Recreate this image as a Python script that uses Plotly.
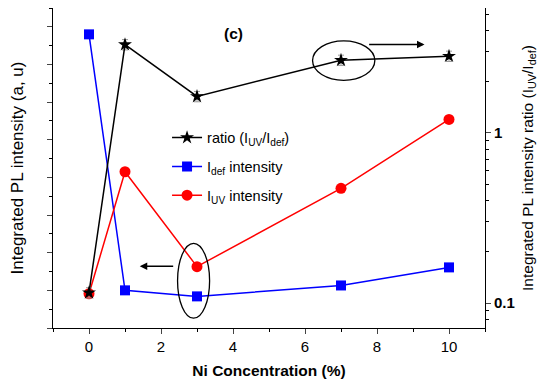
import plotly.graph_objects as go

ni = [0, 1, 3, 7, 10]
i_def = [7.80, 1.00, 0.84, 1.13, 1.61]
i_uv = [0.91, 4.15, 1.63, 3.71, 5.54]
ratio = [0.115, 3.31, 1.64, 2.68, 2.83]

FONT = "Liberation Sans, Arial, sans-serif"

fig = go.Figure()
fig.add_trace(go.Scatter(x=ni, y=ratio, yaxis="y2", mode="lines+markers",
                         name="ratio (I<sub>UV</sub>/I<sub>def</sub>)", legendgroup="a",
                         line=dict(color="black", width=1.5),
                         marker=dict(symbol="star", size=10.5, color="black"),
                         error_y=dict(type="percent", value=7, color="#999999", thickness=1, width=3)))
fig.add_trace(go.Scatter(x=ni, y=i_def, mode="lines+markers",
                         name="I<sub>def</sub> intensity", legendgroup="b",
                         line=dict(color="blue", width=1.5),
                         marker=dict(symbol="square", size=10, color="blue")))
fig.add_trace(go.Scatter(x=ni, y=i_uv, mode="lines+markers",
                         name="I<sub>UV</sub> intensity", legendgroup="c",
                         line=dict(color="red", width=1.5),
                         marker=dict(symbol="circle", size=11, color="red")))

# annotations: ellipses and arrows
fig.add_shape(type="circle", xref="x", yref="y2", x0=6.21, x1=7.94, y0=2.04, y1=3.48,
              line=dict(color="black", width=1.3))
fig.add_shape(type="circle", xref="x", yref="y", x0=2.46, x1=3.35, y0=0.26, y1=2.25,
              line=dict(color="black", width=1.3))
fig.add_annotation(x=9.32, y=0.52, ax=7.74, ay=0.52, xref="x", yref="y2", axref="x", ayref="y2",
                   showarrow=True, arrowhead=2, arrowsize=1, arrowwidth=1.5, arrowcolor="black", text="")
fig.add_annotation(x=1.41, y=1.64, ax=2.38, ay=1.64, xref="x", yref="y", axref="x", ayref="y",
                   showarrow=True, arrowhead=2, arrowsize=1, arrowwidth=1.5, arrowcolor="black", text="")
fig.add_annotation(x=4.0, y=7.83, xref="x", yref="y", text="<b>(c)</b>", showarrow=False,
                   font=dict(size=15.5, color="black", family=FONT))

# page body has an 8px margin: figure is sized/margined so the plot lands where the reference has it
fig.update_layout(
    width=542, height=381,
    margin=dict(l=45, r=65, t=0, b=61),
    paper_bgcolor="white", plot_bgcolor="white",
    font=dict(family=FONT, color="black", size=15),
    showlegend=True,
    legend=dict(x=0.264, y=0.645, xanchor="left", yanchor="top", bgcolor="rgba(0,0,0,0)",
                font=dict(size=14.5, family=FONT), tracegroupgap=7),
    xaxis=dict(range=[-1, 11], tickvals=[0, 2, 4, 6, 8, 10], ticks="outside", ticklen=5,
               minor=dict(dtick=1, tick0=0, ticks="outside", ticklen=3, tickcolor="black"),
               showline=True, linecolor="black", linewidth=1, mirror=True, showgrid=False,
               zeroline=False, tickfont=dict(size=15, family=FONT), automargin=False,
               tickprefix="<b>", ticksuffix="</b>",
               title=dict(text="<b>Ni Concentration (%)</b>", font=dict(size=15.5), standoff=11)),
    yaxis=dict(range=[0, 8.5], dtick=1, ticks="outside", ticklen=5, showticklabels=False,
               minor=dict(dtick=0.5, ticks="outside", ticklen=3, tickcolor="black"),
               showline=True, linecolor="black", linewidth=1, showgrid=False, zeroline=False,
               automargin=False,
               title=dict(text="Integrated PL intensity (a, u)", font=dict(size=17), standoff=20)),
    yaxis2=dict(type="log", overlaying="y", side="right", range=[-1.147, 0.735],
                tickvals=[0.1, 1], ticktext=["<b>0.1</b>", "<b>1</b>"], ticks="outside", ticklen=5,
                minor=dict(tickmode="array",
                           tickvals=[0.08, 0.09, 0.2, 0.3, 0.4, 0.5, 0.6, 0.7, 0.8, 0.9, 2, 3, 4, 5],
                           ticks="outside", ticklen=3, tickcolor="black"),
                showline=True, linecolor="black", linewidth=1, showgrid=False, zeroline=False,
                tickfont=dict(size=15, family=FONT), automargin=False,
                title=dict(text="Integrated PL intensity ratio (I<sub>UV</sub>/I<sub>def</sub>)",
                           font=dict(size=15.5), standoff=8)),
)

fig.write_html("out.html")
